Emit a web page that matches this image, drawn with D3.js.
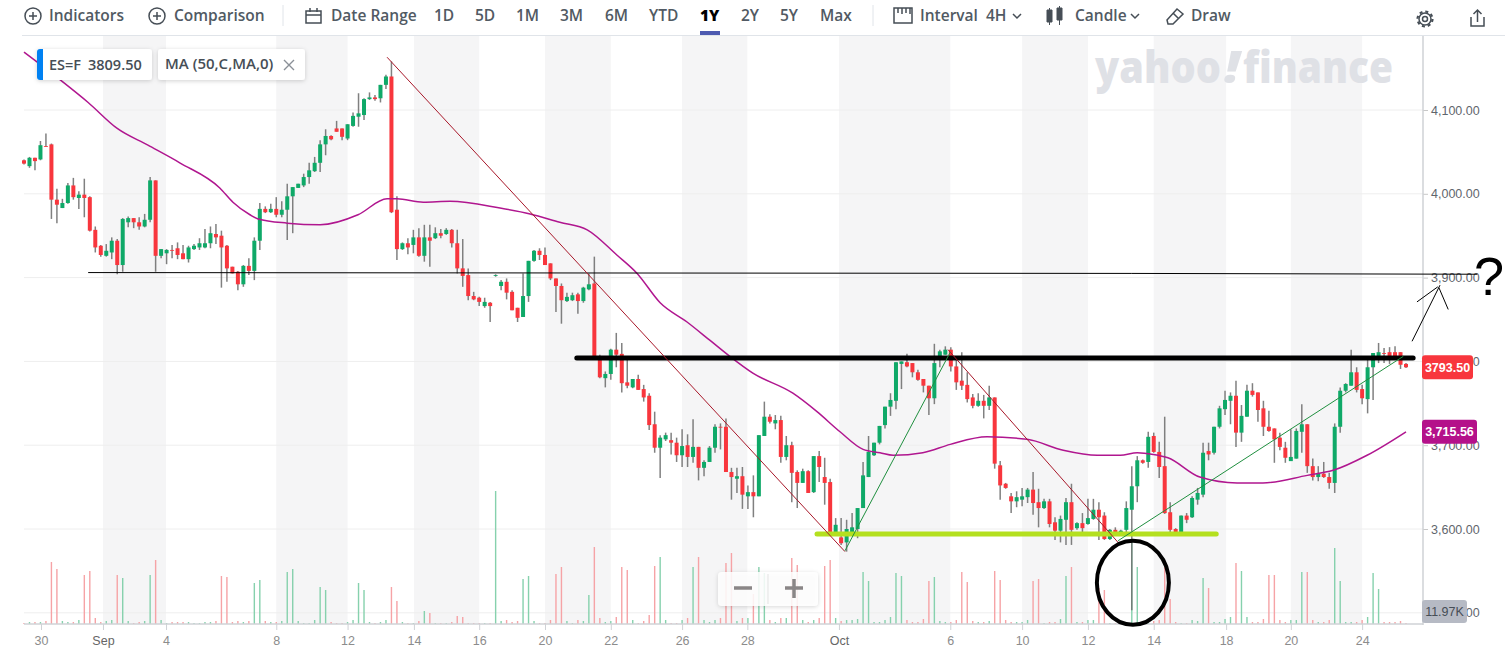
<!DOCTYPE html>
<html>
<head>
<meta charset="utf-8">
<title>ES=F</title>
<script src="https://cdn.jsdelivr.net/npm/d3@7"></script>
<style>
body { margin: 0; background: #fff; overflow: hidden; }
svg { display: block; }
text { font-family: "Open Sans", sans-serif; }
.tool { font-size: 15.5px; font-weight: 600; fill: #515a63; }
.axis text { font-family: "Liberation Sans", sans-serif; font-size: 12.5px; }
.ylab text { fill: #5f666d; }
.xlab text { fill: #8c8c8c; }
.icon { fill: none; stroke: #464e56; stroke-width: 1.5; }
</style>
</head>
<body>
<svg id="chart" width="1505" height="661"></svg>
<script>
// prices, one entry per 4H candle
var opens = [
	4040,4033,4043,4041,4057,4059,3993,3983,3989,4010,
	3995,3999,3996,3957,3938,3926,3930,3944,3915,3966,
	3971,3966,3961,3969,4016,3926,3929,3933,3935,3929,
	3922,3934,3936,3936,3941,3952,3950,3938,3913,3907,
	3892,3914,3908,3944,3982,3978,3982,3975,3981,3997,
	4007,4010,4020,4027,4037,4059,4069,4078,4078,4066,
	4081,4092,4094,4113,4115,4114,4130,4140,3981,3934,
	3941,3939,3948,3926,3948,3947,3953,3952,3957,3941,
	3911,3903,3878,3876,3866,3870,3902,3890,3895,3883,
	3864,3853,3878,3920,3932,3927,3917,3899,3890,3872,
	3873,3880,3872,3886,3893,3806,3780,3785,3814,3809,
	3775,3769,3779,3767,3759,3725,3697,3707,3706,3703,
	3688,3700,3686,3698,3673,3680,3697,3722,3722,3668,
	3660,3663,3639,3644,3639,3711,3734,3726,3730,3686,
	3700,3668,3655,3669,3644,3687,3662,3656,3596,3590,
	3584,3596,3600,3625,3662,3688,3703,3724,3746,3753,
	3797,3799,3798,3787,3779,3771,3756,3803,3808,3814,
	3794,3777,3772,3757,3747,3753,3747,3757,3676,3654,
	3639,3633,3635,3638,3647,3632,3625,3633,3608,3598,
	3611,3632,3601,3607,3606,3612,3623,3616,3588,3599,
	3596,3599,3623,3651,3682,3680,3711,3692,3675,3620,
	3600,3595,3616,3614,3635,3641,3693,3691,3722,3743,
	3753,3759,3715,3734,3765,3763,3744,3722,3720,3709,
	3697,3681,3684,3716,3725,3675,3662,3666,3662,3655,
	3722,3765,3771,3787,3767,3755,3793,3805,3810,3811,
	3811,3811,3797
];
var highs = [
	4041,4044,4043,4063,4072,4060,4006,3994,4013,4019,
	4003,4018,3997,3961,3939,3940,3948,3946,3971,3973,
	3971,3972,3976,4020,4016,3934,3934,3939,3942,3939,
	3938,3940,3947,3958,3961,3964,3956,3939,3913,3908,
	3915,3923,3948,3989,3985,3988,3996,3991,4012,4008,
	4012,4024,4037,4044,4064,4077,4070,4087,4078,4083,
	4097,4120,4114,4121,4118,4130,4142,4158,3997,3942,
	3947,3957,3959,3963,3963,3960,3958,3959,3958,3957,
	3946,3911,3883,3877,3876,3871,3904,3897,3899,3885,
	3864,3905,3920,3933,3935,3936,3917,3899,3893,3882,
	3882,3882,3889,3905,3925,3808,3788,3815,3834,3822,
	3804,3779,3784,3772,3762,3740,3712,3715,3715,3709,
	3719,3713,3731,3698,3682,3699,3725,3726,3732,3673,
	3673,3674,3652,3664,3712,3752,3737,3736,3735,3711,
	3704,3670,3672,3670,3687,3693,3685,3660,3613,3613,
	3611,3619,3625,3680,3711,3703,3723,3746,3762,3799,
	3800,3809,3798,3790,3779,3771,3821,3814,3818,3817,
	3806,3811,3787,3761,3762,3760,3771,3757,3681,3655,
	3643,3645,3649,3649,3668,3648,3636,3636,3614,3616,
	3637,3654,3608,3619,3636,3636,3632,3620,3600,3602,
	3599,3633,3675,3687,3683,3716,3715,3704,3734,3632,
	3601,3616,3619,3639,3649,3703,3703,3722,3747,3765,
	3763,3777,3748,3772,3774,3763,3753,3741,3720,3715,
	3704,3719,3720,3749,3725,3684,3675,3680,3667,3726,
	3769,3774,3814,3793,3772,3805,3810,3822,3816,3817,
	3818,3811,3798
];
var lows = [
	4035,4031,4028,4040,4056,3970,3965,3983,3988,3993,
	3982,3972,3955,3930,3925,3925,3922,3904,3907,3960,
	3959,3957,3960,3966,3907,3923,3916,3923,3922,3922,
	3918,3933,3933,3935,3935,3940,3888,3895,3905,3885,
	3889,3903,3897,3933,3977,3977,3972,3972,3945,3953,
	4007,4008,4012,4026,4026,4046,4064,4074,4064,4064,
	4080,4080,4088,4112,4111,4109,4125,3977,3921,3933,
	3928,3929,3925,3919,3913,3946,3947,3951,3936,3905,
	3889,3873,3873,3866,3864,3847,3901,3885,3874,3861,
	3847,3853,3871,3919,3921,3915,3897,3859,3845,3871,
	3872,3857,3870,3885,3805,3780,3769,3778,3793,3763,
	3768,3768,3766,3752,3718,3691,3661,3705,3689,3680,
	3674,3674,3679,3658,3663,3680,3691,3695,3668,3635,
	3643,3624,3624,3614,3639,3711,3726,3719,3679,3682,
	3632,3625,3655,3643,3643,3656,3629,3595,3595,3581,
	3573,3595,3589,3625,3662,3687,3701,3720,3735,3743,
	3767,3793,3781,3777,3763,3736,3749,3793,3808,3788,
	3766,3766,3751,3744,3746,3732,3742,3672,3635,3648,
	3619,3626,3627,3631,3617,3602,3624,3602,3587,3584,
	3581,3581,3599,3596,3605,3611,3587,3587,3587,3592,
	3592,3596,3503,3632,3678,3673,3691,3661,3618,3596,
	3595,3594,3607,3613,3629,3638,3682,3689,3720,3736,
	3725,3698,3704,3734,3758,3728,3711,3716,3679,3694,
	3679,3681,3684,3691,3667,3658,3657,3661,3648,3643,
	3715,3763,3771,3763,3749,3738,3754,3798,3798,3797,
	3804,3791,3792
];
var closes = [
	4036,4043,4039,4058,4056,3993,3987,3989,4010,3996,
	3999,3995,3956,3936,3927,3932,3944,3915,3970,3971,
	3966,3961,3969,4016,3926,3934,3933,3932,3927,3922,
	3936,3938,3941,3941,3953,3948,3936,3911,3905,3892,
	3914,3908,3944,3982,3978,3982,3975,3981,3997,4008,
	4012,4020,4028,4037,4059,4069,4065,4074,4068,4083,
	4093,4096,4113,4115,4113,4130,4140,3978,3934,3941,
	3936,3948,3926,3948,3944,3953,3950,3957,3941,3911,
	3902,3878,3874,3871,3871,3866,3903,3895,3882,3861,
	3852,3878,3920,3932,3927,3915,3899,3890,3873,3877,
	3879,3872,3888,3892,3806,3781,3785,3814,3808,3774,
	3771,3779,3766,3757,3724,3697,3709,3712,3703,3688,
	3699,3686,3698,3673,3680,3697,3722,3721,3668,3662,
	3663,3641,3644,3639,3712,3734,3728,3730,3686,3700,
	3667,3655,3669,3643,3687,3674,3655,3596,3605,3583,
	3600,3602,3625,3664,3692,3703,3723,3746,3754,3799,
	3800,3794,3787,3778,3771,3756,3798,3812,3814,3794,
	3775,3771,3755,3747,3753,3747,3757,3678,3652,3649,
	3633,3638,3639,3647,3631,3625,3633,3606,3598,3612,
	3632,3599,3607,3601,3613,3623,3614,3588,3599,3593,
	3598,3625,3651,3682,3679,3710,3692,3674,3619,3599,
	3596,3616,3611,3637,3643,3691,3689,3722,3744,3754,
	3759,3715,3735,3765,3760,3742,3722,3717,3707,3698,
	3685,3686,3717,3725,3675,3662,3666,3662,3655,3722,
	3765,3773,3787,3766,3756,3793,3810,3811,3809,3806,
	3805,3796,3793
];
// volume in K, no scale on the chart so these are only relative
var volumes = [
	1,2,2,2,3,62,55,3,2,2,
	4,49,53,6,2,3,4,49,46,3,
	1,2,3,49,64,4,1,2,2,2,
	2,1,1,2,2,3,48,47,2,3,
	2,3,41,44,3,2,2,3,52,55,
	3,1,1,4,37,34,2,1,1,2,
	4,41,34,2,1,2,4,37,23,2,
	1,1,3,13,11,1,1,1,2,8,
	7,1,1,1,1,1,133,3,4,2,
	3,45,48,3,1,1,4,50,57,3,
	1,4,3,29,77,6,2,3,7,57,
	54,4,1,3,9,58,67,4,1,1,
	4,6,57,67,4,2,4,6,61,71,
	3,6,6,30,57,51,4,2,6,6,
	66,59,4,2,4,6,58,64,6,3,
	4,4,5,52,43,2,2,4,7,51,
	48,4,2,2,5,43,47,3,2,2,
	4,52,42,3,2,2,3,53,44,4,
	2,2,2,4,43,45,1,2,2,5,
	48,57,2,2,4,4,36,34,1,1,
	3,2,85,57,3,2,3,4,61,25,
	2,1,1,4,3,46,36,2,2,5,
	7,61,53,7,2,2,5,49,49,4,
	2,4,4,52,52,4,2,2,4,76,
	43,2,2,2,4,7,51,35,2,2,
	2,3,1
];

var maIndex = [0,6.6,11.7,17,22.6,28.4,35.7,38.1,41.2,42.7,48,54,60.9,66.2,68,72.8,77.7,86.8,92.3,97.7,102.7,108.1,111.8,116,120.9,125.1,128.7,132.9,140.2,144.6,148.8,153,156.1,158.5,163.9,168.9,175.6,182.9,189.5,195.7,199.9,203,205.9,208.6,214.4,221.2,225.9,234,238.7,244.9,252];
var maValues = [4169,4136,4109,4078,4058,4037,4007,3990,3975,3970,3965,3963,3975,3994,3994,3990,3991,3983,3976,3966,3957,3927,3905,3870,3847,3825,3806,3786,3762,3740,3716,3695,3691,3688,3691,3701,3710,3707,3694,3688,3688,3691,3689,3685,3662,3655,3655,3664,3670,3688,3716];

var priceTicks = [3500,3600,3700,3800,3900,4000,4100];
var dayIndex = [3.1,14.4,25.9,46,59,71.1,83,95,107,120,131.9,148.6,168.9,182,194,206,219.2,231,244];
var dayLabels = ["30","Sep","4","8","12","14","16","20","22","26","28","Oct","6","10","12","14","18","20","24"];

// hand drawn marks on top of the chart, [candle index, price]
var thinLine = [[11.7,3906],[202,3905],[265,3904]];
var resistance = [[100.8,3804],[253.3,3804]];
var support = [[144.6,3594],[217.4,3594]];
var redLines = [[[66.2,4163],[149.7,3573]],[[168.5,3814],[199.9,3581]]];
var greenLines = [[[149.7,3574],[168.9,3811]],[[199.5,3586],[251.5,3806]]];
var arrowLines = [[[253.1,3824],[258.2,3891]],[[254,3871],[257.8,3889]],[[258,3888],[259.7,3862]]];
var circled = [202.2,3536];

var toolLabels = ["Indicators","Comparison","Date Range","1D","5D","1M","3M","6M","YTD","1Y","2Y","5Y","Max","Interval","4H","Candle","Draw"];
var toolX = [49,174,331,434,475,516,560,605,649,700,741,780,820,920,986,1075,1191];

var svg = d3.select("#chart");
var x = d3.scaleLinear().domain([0,252]).range([24,1406]);
var y = d3.scaleLinear().domain([3600,4100]).range([529,110]);
var v = d3.scaleLinear().domain([0,133]).range([624,491]);
var plot_left = 24, plot_right = 1423, plot_top = 36, plot_bottom = 624;

function draw_segment(pts, color, width, cap){
	var line = d3.line().x(function(d){ return x(d[0]); }).y(function(d){ return y(d[1]); });
	svg.append("path")
		.attr("d", line(pts))
		.attr("fill", "none")
		.attr("stroke", color)
		.attr("stroke-width", width)
		.attr("stroke-linecap", cap || "butt");
}

// weekly shading, every second gap between date ticks
for(var b = 1; b < dayIndex.length - 1; b += 2){
	svg.append("rect")
		.attr("x", x(dayIndex[b]))
		.attr("y", plot_top)
		.attr("width", x(dayIndex[b+1]) - x(dayIndex[b]))
		.attr("height", plot_bottom - plot_top)
		.attr("fill", "#f5f5f6");
}

svg.selectAll(".grid").data(priceTicks).enter().append("line")
	.attr("class", "grid")
	.attr("x1", plot_left).attr("x2", plot_right)
	.attr("y1", function(d){ return y(d); })
	.attr("y2", function(d){ return y(d); })
	.attr("stroke", "#eeeeee");

// watermark
var mark = svg.append("g").attr("fill", "#dfe1e6").style("font-family", "Roboto").style("font-weight", 900).style("font-size", "45px");
mark.append("text").attr("x", 1095).attr("y", 83).attr("textLength", 126).attr("lengthAdjust", "spacingAndGlyphs").text("yahoo");
mark.append("text").attr("x", 1224).attr("y", 83).attr("textLength", 16).attr("lengthAdjust", "spacingAndGlyphs").attr("font-style", "italic").text("!");
mark.append("text").attr("x", 1243).attr("y", 83).attr("textLength", 150).attr("lengthAdjust", "spacingAndGlyphs").text("finance");

// volume
svg.selectAll(".vol").data(volumes).enter().append("rect")
	.attr("class", "vol")
	.attr("x", function(d,i){ return x(i) - 0.7; })
	.attr("y", function(d){ return v(d); })
	.attr("width", 1.4)
	.attr("height", function(d){ return v(0) - v(d); })
	.attr("fill", function(d,i){ return closes[i] >= opens[i] ? "#86d1ad" : "#f6a3a6"; });

// candles
var candle = svg.selectAll(".candle").data(opens).enter().append("g").attr("class", "candle");
candle.append("line")
	.attr("x1", function(d,i){ return x(i); })
	.attr("x2", function(d,i){ return x(i); })
	.attr("y1", function(d,i){ return y(highs[i]); })
	.attr("y2", function(d,i){ return y(lows[i]); })
	.attr("stroke", "#6a6a6a")
	.attr("stroke-opacity", 0.85)
	.attr("stroke-width", 1.5);
candle.append("rect")
	.attr("x", function(d,i){ return x(i) - 2; })
	.attr("y", function(d,i){ return y(Math.max(d, closes[i])); })
	.attr("width", 4)
	.attr("height", function(d,i){ return Math.abs(y(d) - y(closes[i])); })
	.attr("fill", function(d,i){ return closes[i] >= d ? "#0fa968" : "#f8363d"; });

// moving average
var ma_line = d3.line()
	.x(function(d){ return x(d); })
	.y(function(d,i){ return y(maValues[i]); })
	.curve(d3.curveMonotoneX);
svg.append("path")
	.attr("d", ma_line(maIndex))
	.attr("fill", "none")
	.attr("stroke", "#b0168f")
	.attr("stroke-width", 1.5);

// axes
var y_axis = svg.append("g")
	.attr("class", "axis ylab")
	.attr("transform", "translate(" + plot_right + ",0)")
	.call(d3.axisRight(y).tickValues(priceTicks).tickFormat(d3.format(",.2f")).tickSize(5).tickPadding(3));
y_axis.select(".domain").remove();
y_axis.selectAll(".tick line").attr("stroke", "#c8c8c8");
svg.append("line").attr("x1", plot_right).attr("x2", plot_right).attr("y1", plot_top).attr("y2", plot_bottom + 1).attr("stroke", "#cfd2d6").attr("stroke-width", 1.5);

var x_axis = svg.append("g")
	.attr("class", "axis xlab")
	.attr("transform", "translate(0," + plot_bottom + ")")
	.call(d3.axisBottom(x).tickValues(dayIndex).tickFormat(function(d,i){ return dayLabels[i]; }).tickSize(6).tickPadding(6).tickSizeOuter(0));
x_axis.select(".domain").remove();
x_axis.selectAll(".tick line").attr("stroke", "#cfd2d6");
x_axis.selectAll(".tick text").style("fill", function(d,i){ return (dayLabels[i] == "Sep" || dayLabels[i] == "Oct") ? "#666" : "#8c8c8c"; });
svg.append("line").attr("x1", plot_left).attr("x2", plot_right).attr("y1", plot_bottom).attr("y2", plot_bottom).attr("stroke", "#cfd2d6").attr("stroke-width", 1.5);

// price flags
function flag(px, py, w, h, color, label, text_color){
	svg.append("rect").attr("x", px).attr("y", py).attr("width", w).attr("height", h).attr("rx", 3).attr("fill", color);
	svg.append("text")
		.attr("x", px + w/2).attr("y", py + h/2 + 4.5)
		.attr("text-anchor", "middle")
		.attr("fill", text_color)
		.style("font-family", "Liberation Sans")
		.style("font-size", "12.5px")
		.style("font-weight", text_color == "#fff" ? 700 : 400)
		.text(label);
}
flag(1422, y(closes[252]) - 12, 51, 24, "#f8363d", "3793.50", "#fff");
flag(1422, y(maValues[50]) - 12, 55, 24, "#b4118a", "3,715.56", "#fff");
flag(1422, 600, 45, 23, "#b6bac4", "11.97K", "#464e56");

// zoom buttons
svg.append("defs").html('<filter id="soft" x="-20%" y="-30%" width="140%" height="160%"><feDropShadow dx="0" dy="1" stdDeviation="2" flood-color="#000" flood-opacity="0.18"/></filter>');
svg.append("rect").attr("x", 718).attr("y", 572).attr("width", 100).attr("height", 34).attr("rx", 4).attr("fill", "#fff").attr("fill-opacity", 0.85).attr("filter", "url(#soft)");
svg.append("line").attr("x1", 768).attr("x2", 768).attr("y1", 574).attr("y2", 604).attr("stroke", "#e3e3e3");
svg.append("path").attr("d", "M734 588H752M785 588H803M794 579V598").attr("stroke", "#8a8687").attr("stroke-width", 3.5).attr("fill", "none");

// toolbar
svg.append("line").attr("x1", 22).attr("x2", 1505).attr("y1", 35.5).attr("y2", 35.5).attr("stroke", "#e0e4e9");
svg.selectAll(".tool").data(toolLabels).enter().append("text")
	.attr("class", "tool")
	.attr("x", function(d,i){ return toolX[i]; })
	.attr("y", 21)
	.style("fill", function(d){ return d == "1Y" ? "#000" : null; })
	.style("font-weight", function(d){ return d == "1Y" ? 800 : null; })
	.text(function(d){ return d; });
svg.append("rect").attr("x", 700).attr("y", 31).attr("width", 20).attr("height", 4).attr("fill", "#4d5ab0");
[283,873].forEach(function(px){
	svg.append("line").attr("x1", px).attr("x2", px).attr("y1", 5).attr("y2", 26).attr("stroke", "#e0e4e9");
});
[33,157].forEach(function(px){
	svg.append("circle").attr("class", "icon").attr("cx", px).attr("cy", 16).attr("r", 8);
	svg.append("path").attr("class", "icon").attr("d", "M" + (px-4) + " 16H" + (px+4) + "M" + px + " 12V20");
});
svg.append("path").attr("class", "icon").attr("d", "M306 11H321V23H306ZM306 15H321M310 8V12M317 8V12");
svg.append("path").attr("class", "icon").attr("stroke-width", 2).attr("d", "M894 8H912V23H894ZM898 8V13M902 8V14M906 8V13M910 8V14");
svg.append("path").attr("d", "M1047 10H1052V22H1047ZM1049.5 8V25M1057 8H1062V20H1057ZM1059.5 6V25").attr("fill", "#464e56").attr("stroke", "#464e56");
svg.append("path").attr("class", "icon").attr("d", "M1013 14L1017 18L1021 14M1131 14L1135 18L1139 14");
svg.append("path").attr("class", "icon").attr("d", "M1167 20L1177 9L1183 14L1173 24H1168ZM1173 13L1179 19");
// gear: ring with dashed teeth
svg.append("circle").attr("class", "icon").attr("cx", 1425).attr("cy", 19).attr("r", 6);
svg.append("circle").attr("cx", 1425).attr("cy", 19).attr("r", 7.5).attr("fill", "none").attr("stroke", "#464e56").attr("stroke-width", 2.2).attr("stroke-dasharray", "3 2.9");
svg.append("circle").attr("class", "icon").attr("cx", 1425).attr("cy", 19).attr("r", 2.5);
svg.append("path").attr("class", "icon").attr("d", "M1471 17V26H1484V17M1477.5 22V11M1473.5 14L1477.5 10L1481.5 14");

// legend chips
svg.append("rect").attr("x", 37).attr("y", 49).attr("width", 115).attr("height", 31).attr("rx", 3).attr("fill", "#fff").attr("filter", "url(#soft)");
svg.append("path").attr("d", "M43 49H40a3 3 0 0 0 -3 3V77a3 3 0 0 0 3 3H43Z").attr("fill", "#0081f2");
svg.append("text").attr("x", 49).attr("y", 70).attr("fill", "#464e56").style("font-size", "14.5px").style("font-weight", 600).text("ES=F");
svg.append("text").attr("x", 88).attr("y", 70).attr("fill", "#464e56").style("font-size", "14.5px").style("font-weight", 600).text("3809.50");
svg.append("rect").attr("x", 158).attr("y", 49).attr("width", 147).attr("height", 31).attr("rx", 3).attr("fill", "#fff").attr("filter", "url(#soft)");
svg.append("text").attr("x", 165).attr("y", 69).attr("fill", "#464e56").style("font-size", "15px").style("font-weight", 600).text("MA (50,C,MA,0)");
svg.append("path").attr("d", "M284 60L294 70M294 60L284 70").attr("stroke", "#8a9097").attr("stroke-width", 1.4);

// drawn lines
draw_segment(thinLine, "#000", 1);
draw_segment(resistance, "#000", 5, "round");
draw_segment(support, "#b4e01f", 5, "round");
redLines.forEach(function(s){ draw_segment(s, "#a8182a", 1); });
greenLines.forEach(function(s){ draw_segment(s, "#1f8f3f", 1); });
arrowLines.forEach(function(s){ draw_segment(s, "#000", 1); });

svg.append("ellipse")
	.attr("cx", x(circled[0])).attr("cy", y(circled[1]))
	.attr("rx", 36).attr("ry", 42)
	.attr("fill", "none").attr("stroke", "#000").attr("stroke-width", 4);

svg.append("text")
	.attr("x", 1474).attr("y", 295)
	.attr("fill", "#000")
	.style("font-family", "Liberation Sans")
	.style("font-size", "54px")
	.text("?");
</script>
</body>
</html>
